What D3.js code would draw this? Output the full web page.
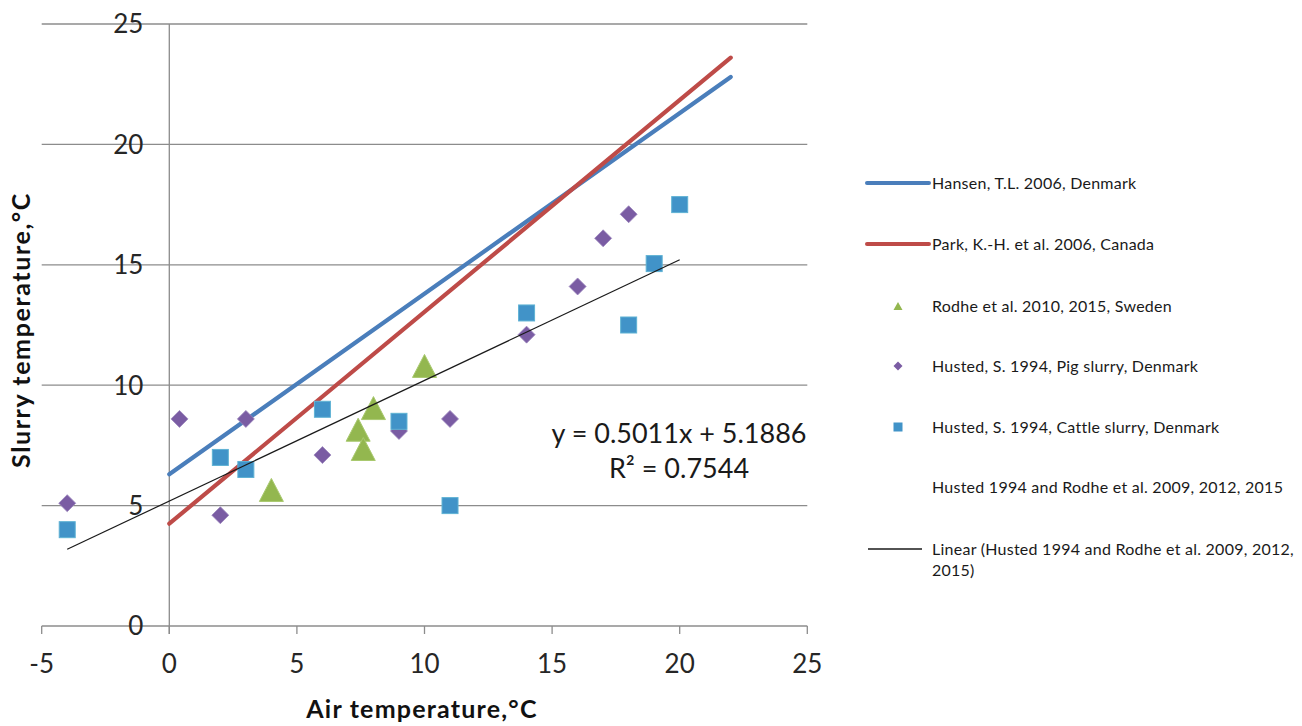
<!DOCTYPE html>
<html><head><meta charset="utf-8">
<script src="https://cdn.jsdelivr.net/npm/d3@7"></script>
<style>body{margin:0;background:#fff}svg{display:block}text{font-family:Lato,"Open Sans",sans-serif}</style>
</head><body><svg id="c" width="1302" height="726"></svg>
<script>
// ---- data ----
const xTicks = [-5, 0, 5, 10, 15, 20, 25];
const yTicks = [0, 5, 10, 15, 20, 25];
const hansenX = [0, 22];
const hansenY = [6.3, 22.8];
const parkX = [0, 22];
const parkY = [4.25, 23.6];
const rodheX = [4, 7.4, 7.6, 8, 10];
const rodheY = [5.65, 8.15, 7.35, 9.05, 10.8];
const pigX = [-4, 0.4, 2, 3, 6, 9, 11, 14, 16, 17, 18];
const pigY = [5.1, 8.6, 4.6, 8.6, 7.1, 8.1, 8.6, 12.1, 14.1, 16.1, 17.1];
const cattleX = [-4, 2, 3, 6, 9, 11, 14, 18, 19, 20];
const cattleY = [4.0, 7.0, 6.5, 9.0, 8.5, 5.0, 13.0, 12.5, 15.05, 17.5];
const trendSlope = 0.5011, trendIntercept = 5.1886, trendR2 = 0.7544;
const trendRange = [-4, 20];
const legendLabels = [
  "Hansen, T.L. 2006, Denmark",
  "Park, K.-H. et al. 2006, Canada",
  "Rodhe et al. 2010, 2015, Sweden",
  "Husted, S. 1994, Pig slurry, Denmark",
  "Husted, S. 1994, Cattle slurry, Denmark",
  "Husted 1994 and Rodhe et al. 2009, 2012, 2015",
  ["Linear (Husted 1994 and Rodhe et al. 2009, 2012,", "2015)"]
];
const xTitle = "Air temperature,°C";
const yTitle = "Slurry temperature,°C";

// ---- colours ----
const cBlue = "#4a7ebb", cRed = "#be4b48", cGreen = "#93b74f", cPurple = "#7a5ca3", cSq = "#4193c8";

const svg = d3.select("#c");
const x = d3.scaleLinear().domain([-5, 25]).range([41.7, 807.3]);
const y = d3.scaleLinear().domain([0, 25]).range([626, 24]);

// gridlines
svg.append("g").selectAll("line").data(yTicks).join("line")
  .attr("x1", x(-5)).attr("x2", x(25)).attr("y1", d => y(d)).attr("y2", d => y(d))
  .attr("stroke", "#8c8c8c").attr("stroke-width", 1.3);
// y axis at x=0
svg.append("line").attr("x1", x(0)).attr("x2", x(0)).attr("y1", y(25)).attr("y2", y(0) + 8)
  .attr("stroke", "#8c8c8c").attr("stroke-width", 1.3);
// x axis ticks
svg.append("g").selectAll("line").data(xTicks).join("line")
  .attr("x1", d => x(d)).attr("x2", d => x(d)).attr("y1", y(0)).attr("y2", y(0) + 8)
  .attr("stroke", "#8c8c8c").attr("stroke-width", 1.3);
// x tick labels
svg.append("g").selectAll("text").data(xTicks).join("text")
  .attr("x", d => x(d)).attr("y", y(0) + 47).attr("text-anchor", "middle")
  .attr("font-size", 26).attr("fill", "#262626").text(d => d);
// y tick labels
svg.append("g").selectAll("text").data(yTicks).join("text")
  .attr("x", x(0) - 26).attr("y", d => y(d)).attr("dy", "0.36em").attr("text-anchor", "end")
  .attr("font-size", 26).attr("fill", "#262626").text(d => d);

// axis titles
svg.append("text").attr("x", 422).attr("y", 718).attr("text-anchor", "middle")
  .attr("font-size", 25).attr("font-weight", "bold").attr("letter-spacing", 1.2).attr("fill", "#111").text(xTitle);
svg.append("text").attr("transform", "translate(30,330) rotate(-90)").attr("text-anchor", "middle")
  .attr("font-size", 25).attr("font-weight", "bold").attr("letter-spacing", 1.6).attr("fill", "#111").text(yTitle);

const line = d3.line().x(d => x(d[0])).y(d => y(d[1]));
// Hansen & Park lines
svg.append("path").attr("d", line(d3.zip(hansenX, hansenY))).attr("fill", "none")
  .attr("stroke", cBlue).attr("stroke-width", 4.2).attr("stroke-linecap", "round");
svg.append("path").attr("d", line(d3.zip(parkX, parkY))).attr("fill", "none")
  .attr("stroke", cRed).attr("stroke-width", 4.2).attr("stroke-linecap", "round");

// diamonds (pig)
const dia = 8.5;
svg.append("g").selectAll("path").data(d3.zip(pigX, pigY)).join("path")
  .attr("d", d => { const cx = x(d[0]), cy = y(d[1]);
    return `M${cx},${cy - dia}L${cx + dia},${cy}L${cx},${cy + dia}L${cx - dia},${cy}Z`; })
  .attr("fill", cPurple).attr("stroke", "#9a85bd").attr("stroke-width", 0.8);

// squares (cattle)
const sq = 8;
svg.append("g").selectAll("rect").data(d3.zip(cattleX, cattleY)).join("rect")
  .attr("x", d => x(d[0]) - sq).attr("y", d => y(d[1]) - sq).attr("width", 2 * sq).attr("height", 2 * sq)
  .attr("fill", cSq).attr("stroke", "#5fb2d4").attr("stroke-width", 1);

// triangles (Rodhe)
const tw = 12, th = 11.5;
svg.append("g").selectAll("path").data(d3.zip(rodheX, rodheY)).join("path")
  .attr("d", d => { const cx = x(d[0]), cy = y(d[1]);
    return `M${cx},${cy - th}L${cx + tw},${cy + th}L${cx - tw},${cy + th}Z`; })
  .attr("fill", cGreen).attr("stroke", "#a9c96f").attr("stroke-width", 1);

// trend line
svg.append("path").attr("d", line(trendRange.map(v => [v, trendSlope * v + trendIntercept])))
  .attr("fill", "none").attr("stroke", "#1a1a1a").attr("stroke-width", 1.2);

// equation
svg.append("text").attr("x", 679).attr("y", 443).attr("text-anchor", "middle")
  .attr("font-size", 27).attr("fill", "#1a1a1a")
  .text(`y = ${trendSlope}x + ${trendIntercept}`);
svg.append("text").attr("x", 679).attr("y", 478).attr("text-anchor", "middle")
  .attr("font-size", 27).attr("fill", "#1a1a1a")
  .text(`R² = ${trendR2}`);

// legend
const lgY = [183, 244, 306, 366, 427, 487, 549];
const lgTextX = 932, lgMarkX = 898;
const lg = svg.append("g").attr("font-size", 16).attr("letter-spacing", 0.25).attr("fill", "#1a1a1a");
lgY.forEach((ly, i) => {
  const lab = legendLabels[i];
  if (Array.isArray(lab)) {
    lab.forEach((t, j) => lg.append("text").attr("x", lgTextX).attr("y", ly + j * 21).attr("dy", "0.35em").text(t));
  } else {
    lg.append("text").attr("x", lgTextX).attr("y", ly).attr("dy", "0.35em").text(lab);
  }
});
lg.append("line").attr("x1", 867).attr("x2", 929).attr("y1", lgY[0]).attr("y2", lgY[0])
  .attr("stroke", cBlue).attr("stroke-width", 4).attr("stroke-linecap", "round");
lg.append("line").attr("x1", 867).attr("x2", 929).attr("y1", lgY[1]).attr("y2", lgY[1])
  .attr("stroke", cRed).attr("stroke-width", 4).attr("stroke-linecap", "round");
lg.append("path").attr("d", `M${lgMarkX},${lgY[2] - 4}L${lgMarkX + 4.5},${lgY[2] + 4}L${lgMarkX - 4.5},${lgY[2] + 4}Z`)
  .attr("fill", cGreen);
lg.append("path").attr("d", `M${lgMarkX},${lgY[3] - 4.5}L${lgMarkX + 4.5},${lgY[3]}L${lgMarkX},${lgY[3] + 4.5}L${lgMarkX - 4.5},${lgY[3]}Z`)
  .attr("fill", cPurple);
lg.append("rect").attr("x", lgMarkX - 4.5).attr("y", lgY[4] - 4.5).attr("width", 9).attr("height", 9)
  .attr("fill", cSq);
lg.append("line").attr("x1", 868).attr("x2", 922).attr("y1", lgY[6]).attr("y2", lgY[6])
  .attr("stroke", "#1a1a1a").attr("stroke-width", 1.3);
</script></body></html>
